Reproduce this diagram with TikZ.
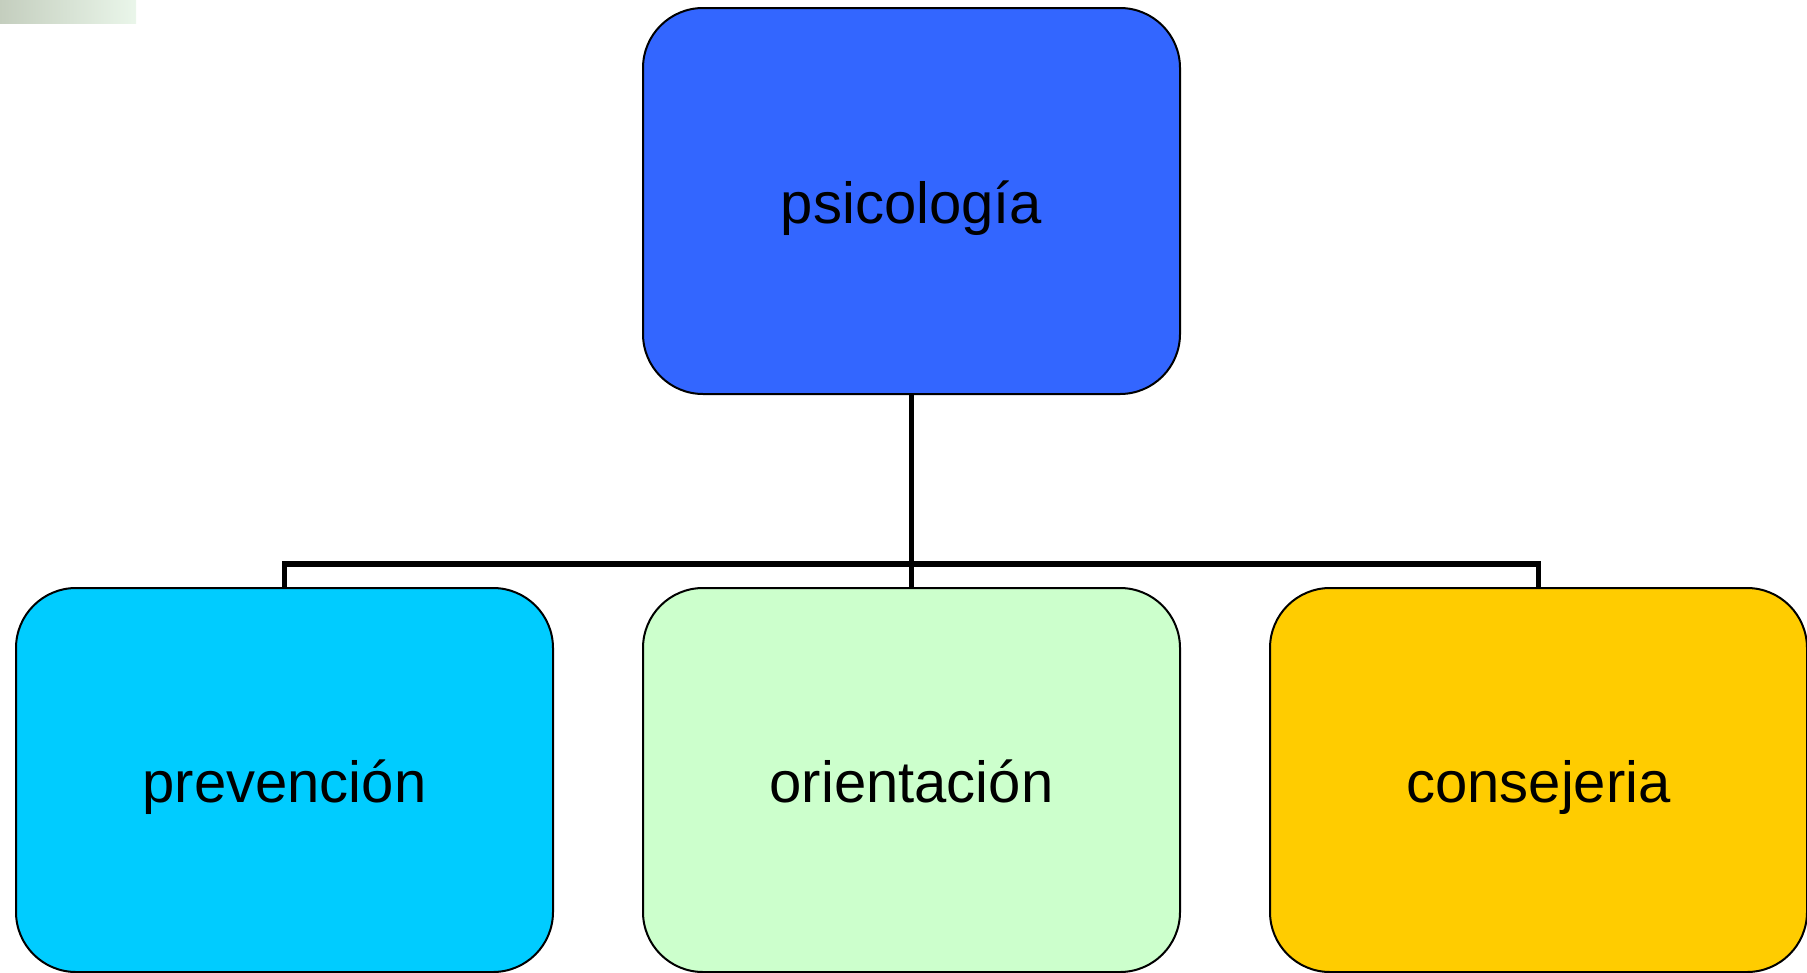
\documentclass[tikz,border=0pt]{standalone}
\usepackage{fontspec}
\setmainfont{Liberation Sans}
\definecolor{topblue}{HTML}{3366FF}
\definecolor{cyanbox}{HTML}{00CCFF}
\definecolor{greenbox}{HTML}{CCFFCC}
\definecolor{goldbox}{HTML}{FFCC00}
\definecolor{blobA}{RGB}{196,206,190}
\definecolor{blobB}{RGB}{234,246,234}
\begin{document}
\begin{tikzpicture}[x=1pt,y=-1pt,
  box/.style={draw=black, line width=2pt, rounded corners=60pt, minimum width=537pt, minimum height=386pt, inner sep=0pt, text height=45pt, text depth=0pt, font=\fontsize{58}{70}\selectfont, text=black},
  conn/.style={draw=black, line width=5.5pt}]
\useasboundingbox (0,0) rectangle (1807,972);
\fill[left color=blobA, right color=blobB] (0,0) rectangle (136,23);
\node[box, fill=topblue] (top) at (911.5,201) {psicología};
\node[box, fill=cyanbox, minimum height=384pt] (left) at (284.5,780) {prevención};
\node[box, fill=greenbox, minimum height=384pt] (mid) at (911.5,780) {orientación};
\node[box, fill=goldbox, minimum height=384pt] (right) at (1538.5,780) {consejeria};
\coordinate (j) at (911.5,564);
\draw[conn] (top.south) -- (j);
\draw[conn] (left.north) -- (left.north |- j) -- (right.north |- j) -- (right.north);
\draw[conn] (j) -- (mid.north);
\end{tikzpicture}
\end{document}
